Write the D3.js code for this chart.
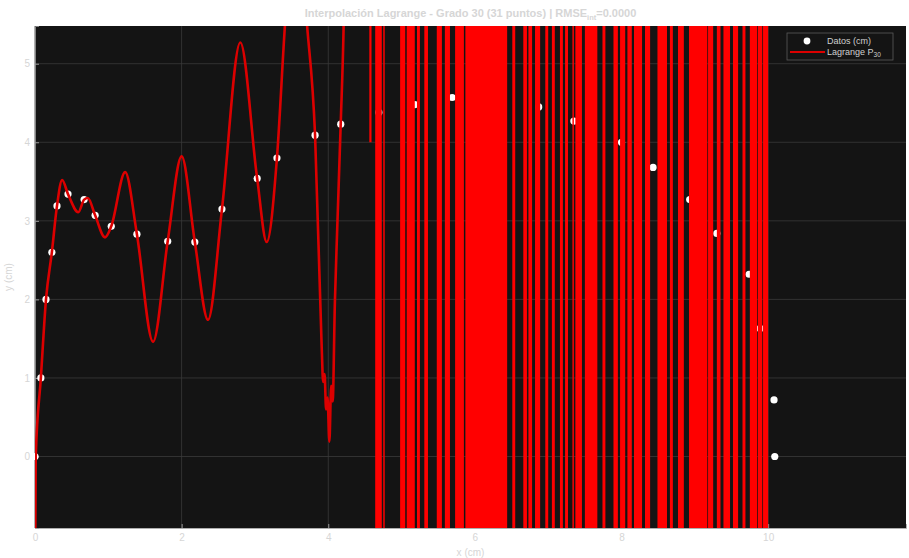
<!DOCTYPE html>
<html>
<head>
<meta charset="utf-8">
<script src="https://cdn.jsdelivr.net/npm/d3@7/dist/d3.min.js"></script>
<style>
  html, body { margin: 0; padding: 0; background: #ffffff; }
  svg { display: block; font-family: "Liberation Sans", Arial, sans-serif; }
</style>
</head>
<body>
<svg id="chart" width="909" height="558"></svg>
<script>
// Measured points (cm)
const dataX = [0.00, 0.08, 0.15, 0.23, 0.30, 0.45, 0.67, 0.82, 1.04, 1.39,
               1.81, 2.18, 2.55, 3.03, 3.30, 3.82, 4.17, 4.69, 5.18, 5.69,
               6.37, 6.87, 7.35, 8.00, 8.43, 8.93, 9.30, 9.74, 9.89, 10.08, 10.09];
const dataY = [0.00, 1.00, 2.00, 2.60, 3.19, 3.34, 3.27, 3.07, 2.93, 2.83,
               2.74, 2.73, 3.15, 3.54, 3.80, 4.09, 4.23, 4.38, 4.48, 4.57,
               4.56, 4.45, 4.27, 4.00, 3.68, 3.27, 2.84, 2.32, 1.63, 0.72, 0.00];

// Degree-30 Lagrange polynomial, well-behaved stretch (x ≤ 4.25)
const curveX = [0.000, 0.010, 0.080, 0.150, 0.230, 0.300, 0.370, 0.450, 0.590, 0.670,
                0.720, 0.820, 0.955, 1.040, 1.230, 1.390, 1.610, 1.810, 2.000, 2.180,
                2.360, 2.550, 2.800, 3.030, 3.160, 3.300, 3.410, 3.560, 3.710, 3.820,
                3.910, 3.930, 3.950, 3.970, 3.990, 4.015, 4.040, 4.060, 4.090, 4.120,
                4.170, 4.210, 4.250];
const curveY = [-1.60, 0.00, 1.00, 2.00, 2.60, 3.19, 3.52, 3.34, 3.11, 3.27,
                3.29, 3.07, 2.79, 2.93, 3.62, 2.83, 1.46, 2.74, 3.82, 2.73,
                1.74, 3.15, 5.27, 3.54, 2.73, 3.80, 5.50, 7.20, 5.50, 4.09,
                1.40, 0.95, 1.05, 0.60, 0.75, 0.19, 0.90, 0.70, 1.95, 2.84,
                4.24, 5.50, 8.00];

// Stretch where P30 blows up: x-intervals where it swings beyond the axis range
const bandStart = [4.56, 4.64, 4.75, 4.98, 5.07, 5.21, 5.31, 5.48, 5.59, 5.73,
                   5.87, 6.51, 6.66, 6.73, 6.82, 6.96, 7.05, 7.16, 7.23, 7.33,
                   7.37, 7.50, 7.74, 7.89, 7.98, 8.08, 8.17, 8.32, 8.49, 8.66,
                   8.77, 8.92, 9.18, 9.30, 9.39, 9.52, 9.65, 9.75, 9.86, 9.93];
const bandEnd   = [4.59, 4.73, 4.77, 5.05, 5.18, 5.25, 5.36, 5.55, 5.66, 5.85,
                   6.44, 6.55, 6.71, 6.78, 6.89, 7.00, 7.09, 7.20, 7.27, 7.35,
                   7.46, 7.67, 7.78, 7.95, 8.05, 8.14, 8.28, 8.39, 8.62, 8.70,
                   8.85, 9.17, 9.25, 9.35, 9.48, 9.59, 9.69, 9.85, 9.92, 10.00];
// Lower reach of each band (null = runs off the bottom of the axes)
const bandLow   = [4.00, null, null, null, null, null, null, null, null, null,
                   null, null, null, null, null, null, null, null, null, null,
                   null, null, null, null, null, null, null, null, null, null,
                   null, null, null, null, null, null, null, null, null, null];

const xTicks = [0, 2, 4, 6, 8, 10];
const yTicks = [0, 1, 2, 3, 4, 5];

const svg = d3.select("#chart");
const plot = { left: 35, right: 906, top: 26, bottom: 528 };

const x = d3.scaleLinear().domain([0, 11.88]).range([plot.left, plot.right]);
const y = d3.scaleLinear().domain([-0.91, 5.48]).range([plot.bottom, plot.top]);

const labelColor = "#d6d6d6";

// Plot background
svg.append("rect")
  .attr("x", plot.left).attr("y", plot.top)
  .attr("width", plot.right - plot.left).attr("height", plot.bottom - plot.top)
  .attr("fill", "#141414");

svg.append("clipPath").attr("id", "plotClip")
  .append("rect")
  .attr("x", plot.left).attr("y", plot.top)
  .attr("width", plot.right - plot.left).attr("height", plot.bottom - plot.top);

// Grid
const grid = svg.append("g").attr("stroke", "#3a3a3a").attr("stroke-width", 0.8);
grid.selectAll("line.gx").data(xTicks).join("line")
  .attr("x1", d => x(d)).attr("x2", d => x(d))
  .attr("y1", plot.top).attr("y2", plot.bottom);
grid.selectAll("line.gy").data(yTicks).join("line")
  .attr("x1", plot.left).attr("x2", plot.right)
  .attr("y1", d => y(d)).attr("y2", d => y(d));

// Axes
const xAxis = svg.append("g")
  .attr("transform", `translate(0,${plot.bottom})`)
  .call(d3.axisBottom(x).tickValues(xTicks).tickSize(-4).tickPadding(6).tickFormat(d3.format("d")));
const yAxis = svg.append("g")
  .attr("transform", `translate(${plot.left},0)`)
  .call(d3.axisLeft(y).tickValues(yTicks).tickSize(-4).tickPadding(5).tickFormat(d3.format("d")));
[xAxis, yAxis].forEach(a => {
  a.select(".domain").attr("stroke", "#9a9a9a").attr("stroke-width", 0.8);
  a.selectAll(".tick line").attr("stroke", "#9a9a9a");
  a.selectAll(".tick text").attr("fill", labelColor).attr("font-size", 10);
});

// Data points (underneath the curve)
const pts = dataX.map((d, i) => ({ x: d, y: dataY[i] }));
svg.append("g").selectAll("circle").data(pts).join("circle")
  .attr("cx", d => x(d.x)).attr("cy", d => y(d.y))
  .attr("r", 3.6)
  .attr("fill", "#ffffff");

const clipped = svg.append("g").attr("clip-path", "url(#plotClip)");

// Smooth part of P30
const curvePts = curveX.map((d, i) => [d, curveY[i]]);
clipped.append("path")
  .datum(curvePts)
  .attr("fill", "none")
  .attr("stroke", "#dc0000")
  .attr("stroke-width", 2.6)
  .attr("d", d3.line().x(d => x(d[0])).y(d => y(d[1])).curve(d3.curveMonotoneX));

// Blow-up stretch: P30 swings far outside the axes many times per pixel
const bands = bandStart.map((s, i) => ({ s, e: bandEnd[i], lo: bandLow[i] }));
clipped.append("g").selectAll("rect").data(bands).join("rect")
  .attr("x", d => x(d.s))
  .attr("width", d => Math.max(1.2, x(d.e) - x(d.s)))
  .attr("y", plot.top - 2)
  .attr("height", d => (d.lo === null ? plot.bottom + 2 : y(d.lo)) - (plot.top - 2))
  .attr("fill", "#ff0000");

// Title
const title = svg.append("text")
  .attr("x", (plot.left + plot.right) / 2).attr("y", 17)
  .attr("text-anchor", "middle")
  .attr("fill", labelColor)
  .attr("font-size", 11).attr("font-weight", "bold");
title.append("tspan").text("Interpolación Lagrange - Grado 30 (31 puntos) | RMSE");
title.append("tspan").attr("font-size", 7.5).attr("dy", 3).text("int");
title.append("tspan").attr("dy", -3).text("=0.0000");

// Axis labels
svg.append("text")
  .attr("x", (plot.left + plot.right) / 2).attr("y", 556)
  .attr("text-anchor", "middle").attr("fill", labelColor).attr("font-size", 10)
  .text("x (cm)");
svg.append("text")
  .attr("transform", `translate(12,${(plot.top + plot.bottom) / 2}) rotate(-90)`)
  .attr("text-anchor", "middle").attr("fill", labelColor).attr("font-size", 10)
  .text("y (cm)");

// Legend
const lg = svg.append("g").attr("transform", "translate(787,33)");
lg.append("rect").attr("width", 106).attr("height", 27)
  .attr("fill", "#141414").attr("stroke", "#5a5a5a").attr("stroke-width", 0.8);
lg.append("circle").attr("cx", 20).attr("cy", 8).attr("r", 3.4).attr("fill", "#ffffff");
lg.append("text").attr("x", 40).attr("y", 11).attr("fill", "#cfcfcf").attr("font-size", 9)
  .text("Datos (cm)");
lg.append("line").attr("x1", 3).attr("x2", 38).attr("y1", 19).attr("y2", 19)
  .attr("stroke", "#dc0000").attr("stroke-width", 1.8);
const lt = lg.append("text").attr("x", 40).attr("y", 22).attr("fill", "#cfcfcf").attr("font-size", 9);
lt.append("tspan").text("Lagrange P");
lt.append("tspan").attr("font-size", 6.5).attr("dy", 2).text("30");
</script>
</body>
</html>
